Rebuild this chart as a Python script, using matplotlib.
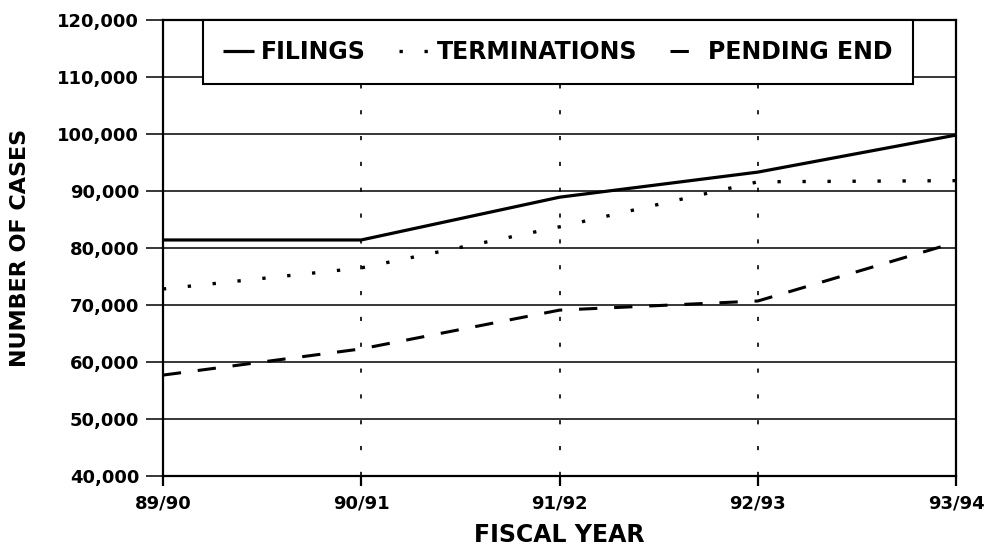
import matplotlib
matplotlib.use('Agg')
import matplotlib.pyplot as plt

# fiscal years and case counts
years = ['89/90', '90/91', '91/92', '92/93', '93/94']
filings = [81400, 81400, 88900, 93300, 99800]
terminations = [72800, 76500, 83700, 91600, 91800]
pending_end = [57700, 62300, 69100, 70700, 81000]

y_ticks = [40000, 50000, 60000, 70000, 80000, 90000, 100000, 110000, 120000]
y_tick_labels = ['40,000', '50,000', '60,000', '70,000', '80,000',
                 '90,000', '100,000', '110,000', '120,000']

plt.rcParams['font.family'] = ['DejaVu Sans']
plt.rcParams['font.weight'] = 'bold'

fig = plt.figure(figsize=(9.93, 5.51), dpi=100)
ax = fig.add_axes([0.164, 0.136, 0.799, 0.828])

x = list(range(len(years)))
ax.plot(x, filings, color='black', lw=2.3, solid_capstyle='butt', label='FILINGS')
ax.plot(x, terminations, color='black', lw=2.4, linestyle=(0, (1, 6.5)),
        label='TERMINATIONS')
ax.plot(x, pending_end, color='black', lw=2.2, linestyle=(0, (6, 5.5)),
        label='PENDING END')

ax.set_xlim(0, len(years) - 1)
ax.set_ylim(40000, 120000)
ax.set_xticks(x)
ax.set_xticklabels(years, fontsize=13, fontweight='bold')
ax.set_yticks(y_ticks)
ax.set_yticklabels(y_tick_labels, fontsize=13, fontweight='bold')

# grid: solid horizontals, sparse dotted verticals
ax.set_axisbelow(True)
ax.yaxis.grid(True, color='black', lw=1.1, linestyle='-')
ax.xaxis.grid(True, color='black', lw=1.2, linestyle=(0, (2.5, 13)))

for s in ax.spines.values():
    s.set_linewidth(1.6)
    s.set_color('black')
ax.tick_params(axis='y', direction='out', length=12, width=1.1, pad=5)
ax.tick_params(axis='x', direction='out', length=7, width=1.6, pad=6)

ax.set_xlabel('FISCAL YEAR', fontsize=17, fontweight='bold', labelpad=8)
ax.set_ylabel('NUMBER OF CASES', fontsize=16, fontweight='bold', labelpad=20)

leg = ax.legend(loc='upper center', bbox_to_anchor=(0.498, 1.0), ncol=3,
                frameon=True, fancybox=False, borderaxespad=0,
                handlelength=1.3, handletextpad=0.3, columnspacing=1.4,
                borderpad=0.85, prop={'size': 17, 'weight': 'bold'})
leg.get_frame().set_edgecolor('black')
leg.get_frame().set_linewidth(1.5)
leg.get_frame().set_alpha(1)

fig.savefig('out.png', dpi=100, facecolor='white')
